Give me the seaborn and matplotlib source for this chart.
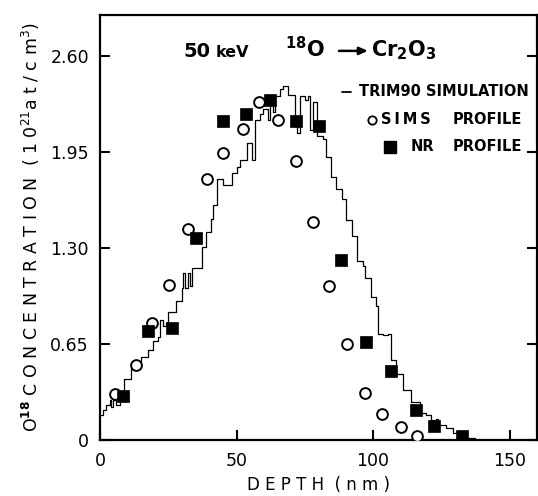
import numpy as np
import pandas as pd
import seaborn as sns
import matplotlib.pyplot as plt
from matplotlib.lines import Line2D

# TRIM90 simulation, step histogram (bin start in nm, concentration)
trim_depth = [0, 1.1, 2.2, 3.5, 4.0, 4.8, 5.9, 7.3, 8.8, 11.5, 15.1, 17.6, 19.4, 21.2,
              21.8, 23.1, 24.3, 24.9, 27.9, 29.9, 30.5, 31.1, 32.3, 32.9, 33.5, 37.5,
              38.8, 40.8, 41.4, 42.7, 45.1, 48.2, 50.0, 51.2, 53.7, 55.5, 56.7, 58.5,
              59.7, 61.6, 62.2, 63.4, 64.0, 65.9, 67.0, 68.9, 71.3, 72.3, 73.2, 75.0,
              76.2, 76.8, 78.0, 79.3, 81.8, 82.7, 84.4, 86.4, 88.7, 90.0, 92.3, 94.1,
              96.3, 97.0, 99.4, 101.0, 101.8, 103.6, 105.4, 106.7, 108.3, 111.0, 114.0,
              117.1, 119.2, 121.3, 123.2, 123.8, 126.8, 129.3, 132.9, 137.2]
trim_conc = [0.17, 0.20, 0.24, 0.27, 0.22, 0.27, 0.24, 0.29, 0.41, 0.49, 0.56, 0.61, 0.67, 0.70,
             0.81, 0.77, 0.79, 0.87, 0.94, 1.03, 1.13, 1.03, 1.13, 1.04, 1.165, 1.31,
             1.41, 1.50, 1.595, 1.765, 1.73, 1.81, 1.85, 1.90, 2.01, 1.90, 2.17, 2.21,
             2.24, 2.17, 2.29, 2.22, 2.33, 2.38, 2.40, 2.34, 2.13, 2.08, 2.33, 2.30,
             2.33, 2.10, 2.29, 2.06, 2.04, 1.92, 1.78, 1.70, 1.63, 1.49, 1.38, 1.21,
             1.18, 1.10, 0.97, 0.905, 0.72, 0.71, 0.72, 0.54, 0.45, 0.34, 0.26,
             0.18, 0.17, 0.136, 0.145, 0.10, 0.08, 0.045, 0.01, 0.0]

# SIMS profile (open circles)
sims_depth = [5.5, 13.0, 19.1, 25.2, 32.1, 39.3, 45.1, 52.2, 58.3, 65.0, 71.6,
              78.1, 83.8, 90.5, 97.0, 103.4, 110.1, 116.1]
sims_conc = [0.31, 0.51, 0.79, 1.05, 1.43, 1.765, 1.946, 2.105, 2.29, 2.17, 1.89,
             1.48, 1.04, 0.65, 0.317, 0.174, 0.086, 0.027]

# NR profile (filled squares)
nr_depth = [8.5, 17.4, 26.2, 35.1, 44.9, 53.4, 62.2, 71.6, 80.1, 88.1, 97.3,
            106.5, 115.8, 122.3, 132.6]
nr_conc = [0.30, 0.74, 0.76, 1.365, 2.16, 2.21, 2.30, 2.16, 2.13, 1.22, 0.667,
           0.464, 0.204, 0.095, 0.027]

y_ticks = [0, 0.65, 1.30, 1.95, 2.60]
y_ticklabels = ["0", "0.65", "1.30", "1.95", "2.60"]
x_ticks = [0, 50, 100, 150]

sns.set_style("ticks")
plt.rcParams['font.family'] = ['DejaVu Sans']
plt.rcParams['text.color'] = 'black'
plt.rcParams['axes.labelcolor'] = 'black'
plt.rcParams['xtick.color'] = 'black'
plt.rcParams['ytick.color'] = 'black'
plt.rcParams['axes.edgecolor'] = 'black'

trim = pd.DataFrame({"depth": trim_depth, "conc": trim_conc})
sims = pd.DataFrame({"depth": sims_depth, "conc": sims_conc})
nr = pd.DataFrame({"depth": nr_depth, "conc": nr_conc})

fig = plt.figure(figsize=(5.38, 4.96), dpi=100)
ax = fig.add_axes([0.186, 0.113, 0.812, 0.857])

sns.lineplot(data=trim, x="depth", y="conc", ax=ax, color="black", lw=0.9,
             drawstyle="steps-post", estimator=None, sort=False)
sns.scatterplot(data=sims, x="depth", y="conc", ax=ax, marker="o", s=60,
                facecolor="white", edgecolor="black", linewidth=1.4, zorder=3)
sns.scatterplot(data=nr, x="depth", y="conc", ax=ax, marker="s", s=64,
                color="black", edgecolor="black", linewidth=0.5, zorder=3)

ax.set_xlim(0, 160)
ax.set_ylim(0, 2.88)
ax.set_xticks(x_ticks)
ax.set_yticks(y_ticks)
ax.set_yticklabels(y_ticklabels)
ax.tick_params(direction="in", length=7, width=1.5, labelsize=12.5, right=True, top=False)
ax.tick_params(axis="y", pad=8)
ax.tick_params(axis="x", pad=9)
for s in ax.spines.values():
    s.set_linewidth(1.6)

ax.set_xlabel("D E P T H  ( n m )", fontsize=12)
ax.set_ylabel(r"O$^{\mathbf{18}}$ C O N C E N T R A T I O N  ( 1 0$^{21}$a t / c m$^3$)",
              fontsize=12.5, labelpad=6)


# pixel position -> axes fraction
def frac(px, py):
    return (px - 100) / 437, (440 - py) / 425


# title pieces, baseline level with the 2.60 tick
for txt, px, size in [("50", 183, 14), ("keV", 216, 11.5), (r"$^{\mathbf{18}}$O", 285, 15),
                      (r"Cr$_{\mathbf{2}}$O$_{\mathbf{3}}$", 371, 15)]:
    fx, fy = frac(px, 57)
    ax.text(fx, fy, txt, transform=ax.transAxes, fontsize=size, fontweight="bold",
            va="baseline", ha="left")
ax.annotate("", xy=frac(368, 51), xytext=frac(339, 51), xycoords="axes fraction",
            textcoords="axes fraction",
            arrowprops=dict(arrowstyle="-|>,head_length=0.5,head_width=0.22",
                            color="black", lw=1.8, shrinkA=0, shrinkB=0))

# legend, drawn as keys and labels in axes fraction
key_line = Line2D([frac(342, 0)[0], frac(351, 0)[0]], [frac(0, 92)[1]] * 2,
                  transform=ax.transAxes, color="black", lw=1.3)
key_circle = Line2D([frac(372, 0)[0]], [frac(0, 120)[1]], transform=ax.transAxes,
                    marker="o", ls="", mfc="white", mec="black", ms=6, mew=1.3)
key_square = Line2D([frac(390, 0)[0]], [frac(0, 147)[1]], transform=ax.transAxes,
                    marker="s", ls="", color="black", ms=8)
for k in (key_line, key_circle, key_square):
    ax.add_line(k)

for txt, px, py in [("TRIM90 SIMULATION", 359, 92),
                    ("S\u2009I\u2009M\u2009S", 381, 120), ("PROFILE", 453, 120),
                    ("NR", 411, 147), ("PROFILE", 453, 147)]:
    fx, fy = frac(px, py)
    ax.text(fx, fy, txt, transform=ax.transAxes, fontsize=10.5, fontweight="bold",
            va="center", ha="left")

fig.savefig("out.png", dpi=100)
